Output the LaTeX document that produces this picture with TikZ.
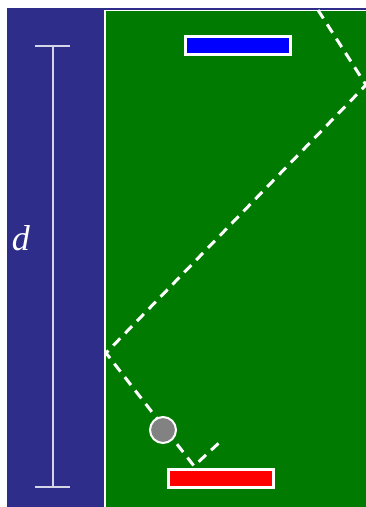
\documentclass[tikz,border=0pt]{standalone}
\usepackage{fontspec}
\setmainfont{Liberation Serif}
\definecolor{panelblue}{RGB}{46,46,138}
\definecolor{fieldgreen}{RGB}{0,122,0}
\definecolor{ballgray}{RGB}{130,130,130}
\begin{document}
\begin{tikzpicture}[x=1pt,y=-1pt,
  bar/.style={draw=white,line width=3pt,inner sep=0pt,minimum width=105pt,minimum height=18pt},
  ray/.style={draw=white,line width=3pt,dash pattern=on 10pt off 7pt},
  ruler/.style={draw=white!80!panelblue,line width=2pt}]
\useasboundingbox (0,0) rectangle (366,507);
\fill[white] (0,0) rectangle (366,507);
\fill[panelblue] (7,8) rectangle (366,507);
\begin{scope}
\clip (0,0) rectangle (366,507);
\fill[fieldgreen,draw=white,line width=1.5pt] (105,10.5) rectangle (372,512);
\coordinate (p0) at (318,10);
\coordinate (p1) at (366,85);
\coordinate (p2) at (106,353);
\coordinate (p3) at (194,466);
\coordinate (p4) at (221,441);
\draw[ray] (p0) -- (p1) -- (p2) -- (p3) -- (p4);
\end{scope}
\node[bar,fill=blue] (blue) at (238,45.5) {};
\node[bar,fill=red] (red) at (220.5,478.5) {};
\node[circle,draw=white,line width=2pt,fill=ballgray,minimum size=26pt,inner sep=0pt] (ball) at (163,430) {};
\coordinate (rt) at (53,46);
\coordinate (rb) at (53,487);
\draw[ruler] (rt) -- (rb);
\draw[ruler] (35,46) -- (70,46);
\draw[ruler] (35,487) -- (70,487);
\node[text=white,font=\itshape\fontsize{36}{36}\selectfont,inner sep=0pt] (d) at (21,238) {d};
\end{tikzpicture}
\end{document}
